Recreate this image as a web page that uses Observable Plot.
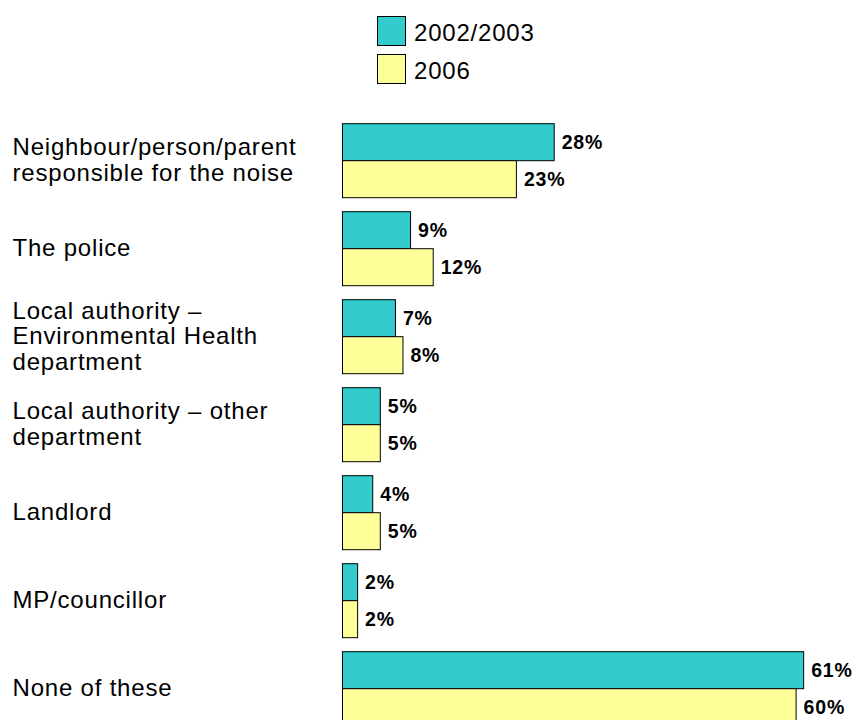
<!DOCTYPE html>
<html>
<head>
<meta charset="utf-8">
<script src="https://cdn.jsdelivr.net/npm/d3@7"></script>
<script src="https://cdn.jsdelivr.net/npm/@observablehq/plot@0.6"></script>
<style>
  html, body { margin: 0; padding: 0; overflow: hidden; background: white; }
  #wrap { position: relative; width: 864px; height: 720px; overflow: hidden; }
  #chart { position: absolute; left: 0; top: 0; }
  .legend-item { position: absolute; font-family: "Liberation Sans", Arial, sans-serif; font-size: 24px; line-height: 24px; letter-spacing: 0.8px; color: #000; white-space: nowrap; }
  .swatch { position: absolute; width: 29px; height: 30px; box-sizing: border-box; border: 1.5px solid #000; }
  svg g[font-weight="bold"] text { letter-spacing: 0.8px; }
  svg g[font-size="24"] text { letter-spacing: 0.8px; }
</style>
</head>
<body>
<div id="wrap">
  <div id="chart"></div>
  <div id="legend"></div>
</div>
<script>
// ---- data ----
const categories = [
  "Neighbour/person/parent responsible for the noise",
  "The police",
  "Local authority – Environmental Health department",
  "Local authority – other department",
  "Landlord",
  "MP/councillor",
  "None of these"
];
const categoryLabels = [
  "Neighbour/person/parent\nresponsible for the noise",
  "The police",
  "Local authority –\nEnvironmental Health\ndepartment",
  "Local authority – other\ndepartment",
  "Landlord",
  "MP/councillor",
  "None of these"
];
const seriesNames = ["2002/2003", "2006"];
const values2002 = [28, 9, 7, 5, 4, 2, 61];
const values2006 = [23, 12, 8, 5, 5, 2, 60];
const seriesColors = ["#33CCCC", "#FFFF99"];

// ---- build tables ----
const bars = categories.flatMap((c, i) => [
  {cat: c, series: seriesNames[0], value: values2002[i]},
  {cat: c, series: seriesNames[1], value: values2006[i]}
]);
const labelRows = categories.map((c, i) => ({cat: c, label: categoryLabels[i]}));

const left = 342.5;
const pxPerPct = 7.56;
const xMax = 65;

const chart = Plot.plot({
  width: 864,
  height: 727,
  marginLeft: left,
  marginRight: 864 - left - pxPerPct * xMax,
  marginTop: 122.3,
  marginBottom: 0,
  style: {fontFamily: "Liberation Sans, Arial, sans-serif", background: "white", color: "black"},
  x: {domain: [0, xMax], axis: null},
  fy: {domain: categories, paddingInner: 0.147, paddingOuter: 0, axis: null, label: null},
  y: {domain: seriesNames, paddingInner: 0, paddingOuter: 0, axis: null},
  color: {domain: seriesNames, range: seriesColors},
  marks: [
    Plot.barX(bars, {fy: "cat", y: "series", x: "value", fill: "series", stroke: "black", strokeWidth: 1}),
    Plot.text(bars, {fy: "cat", y: "series", x: "value", text: d => d.value + "%", textAnchor: "start", dx: 7, fontWeight: "bold", fontSize: 19.5, fill: "black"}),
    Plot.text(labelRows, {fy: "cat", text: "label", frameAnchor: "left", textAnchor: "start", dx: 12 - left, dy: -1, fontSize: 24, lineHeight: 1.07, fill: "black"})
  ]
});
document.getElementById("chart").appendChild(chart);

// ---- legend (HTML, above the plot area) ----
const legend = document.getElementById("legend");
seriesNames.forEach((name, i) => {
  const sw = document.createElement("div");
  sw.className = "swatch";
  sw.style.left = "377px";
  sw.style.top = (16 + i * 38) + "px";
  sw.style.background = seriesColors[i];
  legend.appendChild(sw);
  const t = document.createElement("div");
  t.className = "legend-item";
  t.style.left = "414px";
  t.style.top = (21.4 + i * 38) + "px";
  t.textContent = name;
  legend.appendChild(t);
});
</script>
</body>
</html>
